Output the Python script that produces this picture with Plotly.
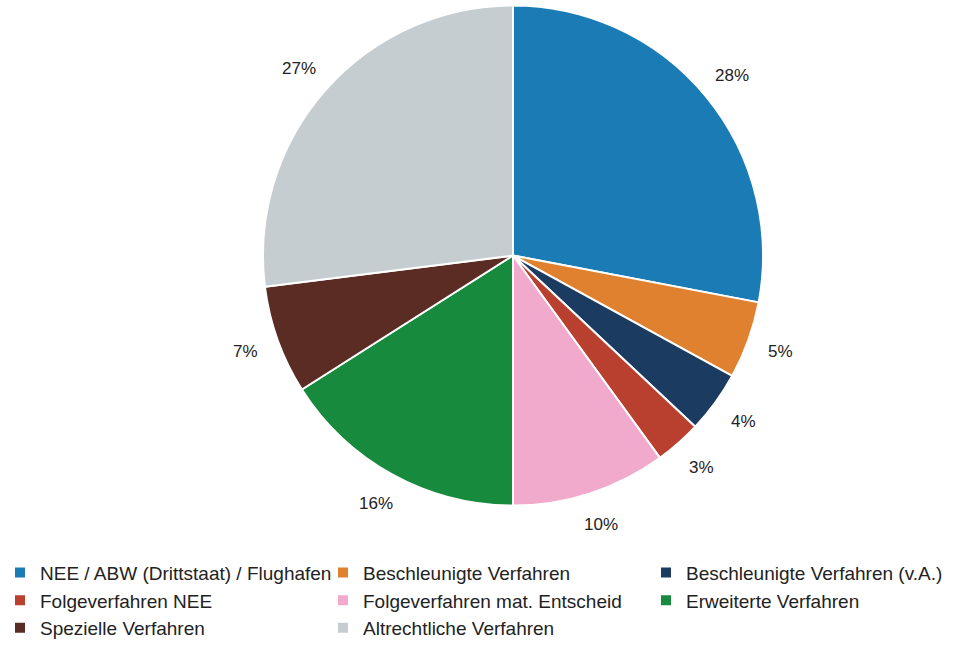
import numpy as np
import plotly.graph_objects as go

categories = [
    "NEE / ABW (Drittstaat) / Flughafen",
    "Beschleunigte Verfahren",
    "Beschleunigte Verfahren (v.A.)",
    "Folgeverfahren NEE",
    "Folgeverfahren mat. Entscheid",
    "Erweiterte Verfahren",
    "Spezielle Verfahren",
    "Altrechtliche Verfahren",
]
shares = [28, 5, 4, 3, 10, 16, 7, 27]
colors = ["#1b7bb4", "#df812f", "#1c3b61", "#b9402f", "#f1a9cc", "#178a3e", "#5b2c24", "#c6cdd0"]

W, H = 970, 648
cx, cy, R = 513, 257.5, 252        # pie centre / radius in pixels
label_r = 1.13 * R                 # distance of percentage labels

fig = go.Figure(go.Pie(
    labels=categories,
    values=shares,
    sort=False,
    direction="clockwise",
    rotation=0,
    marker=dict(colors=colors, line=dict(color="white", width=2)),
    textinfo="none",
    domain=dict(x=[(cx - R) / W, (cx + R) / W], y=[1 - (cy + R) / H, 1 - (cy - R) / H]),
    hoverinfo="label+value",
))

# percentage labels placed outside each slice at its mid-angle
vals = np.array(shares, dtype=float)
cum = np.cumsum(vals) - vals / 2
ang = cum / vals.sum() * 2 * np.pi
for v, a in zip(shares, ang):
    px = cx + label_r * np.sin(a)
    py = cy - label_r * np.cos(a)
    fig.add_annotation(
        x=px / W, y=1 - py / H, xref="paper", yref="paper",
        text=f"{v}%", showarrow=False,
        font=dict(family="Liberation Sans, Arial", size=17, color="#222"),
        xanchor="center", yanchor="middle",
    )

fig.update_layout(
    width=W, height=H,
    margin=dict(l=0, r=0, t=0, b=0),
    paper_bgcolor="white",
    plot_bgcolor="white",
    showlegend=True,
    legend=dict(
        orientation="h",
        x=0, y=0.139, xanchor="left", yanchor="top",
        entrywidth=278, entrywidthmode="pixels",
        font=dict(family="Liberation Sans, Arial", size=19, color="#222"),
        traceorder="normal",
    ),
)

fig.write_html("out.html")
